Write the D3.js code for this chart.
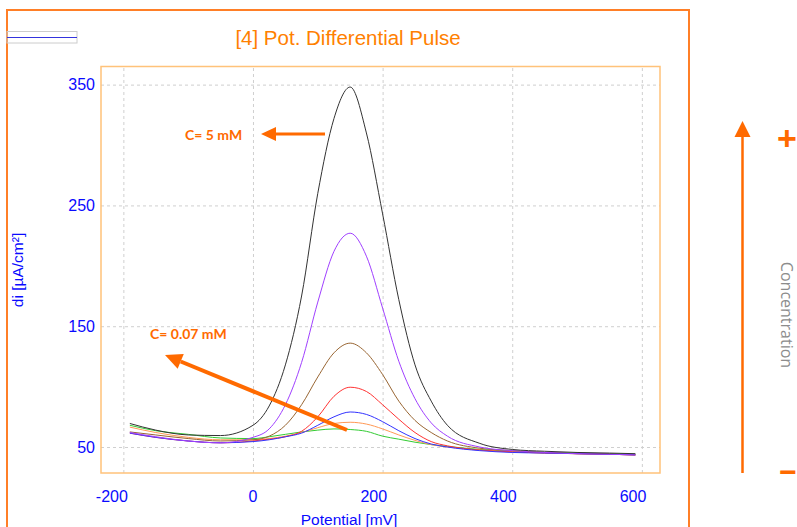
<!DOCTYPE html>
<html>
<head>
<meta charset="utf-8">
<script src="https://cdn.jsdelivr.net/npm/d3@7"></script>
<style>
  body { margin: 0; background: #fff; }
  svg { display: block; }
</style>
</head>
<body>
<script>
let width = 797, height = 527;

// potential axis (mV), shared by all curves
const potential = [-190, -150, -100, -50, 0, 25, 50, 75, 100, 125, 150, 175, 200, 225, 250, 275, 300, 350, 400, 450, 500, 550, 590];

// di (uA/cm2) per concentration, highest first
const curveBlack  = [69.5, 64, 60, 59.5, 68, 84, 118, 175, 260, 322, 348, 310, 243, 172, 118, 88, 68, 53, 48, 46.5, 45.5, 45, 44.5];
const curvePurple = [62, 58.5, 55, 53.5, 58, 65, 85, 120, 170, 212, 227, 208, 165, 121, 90, 70, 59, 50, 47, 45.5, 44.5, 44, 43.5];
const curveBrown  = [62.5, 60, 57, 55, 56, 59, 68, 85, 108, 128, 136, 128, 110, 88, 72, 62, 55, 49, 47, 45.5, 44.5, 44, 43.5];
const curveRed    = [61.5, 58, 55, 53.5, 55, 56.5, 58.5, 63, 75, 92, 99.5, 96, 85, 73, 62, 54.5, 51, 47.5, 46, 45, 44.5, 44, 43.5];
const curveBlue   = [61.5, 58, 55, 53.5, 54.5, 56, 58.5, 61.5, 68, 75, 79, 77, 71, 63.5, 57, 52.5, 50, 47, 45.5, 45, 44.5, 44, 43.5];
const curveOrange = [66.5, 62, 58, 56, 56, 57, 59, 62, 66, 69.5, 70.5, 69, 65, 60, 55.5, 52, 50, 47.5, 46, 45, 44.5, 44, 43.5];
const curveGreen  = [68, 63.5, 60.5, 57.5, 57, 58.5, 60.5, 62.5, 64, 65, 64.5, 63, 59, 56.5, 54, 52, 50.5, 48, 46.5, 45.5, 45, 44.5, 44];

const xTicks = [-200, 0, 200, 400, 600];
const yTicks = [50, 150, 250, 350];

const series = [
    { color: "#33cc33", values: curveGreen },
    { color: "#ff9955", values: curveOrange },
    { color: "#996633", values: curveBrown },
    { color: "#ff3333", values: curveRed },
    { color: "#3333ff", values: curveBlue },
    { color: "#a040ff", values: curvePurple },
    { color: "#333333", values: curveBlack }
];

const orange = "#ff8000";
const arrowOrange = "#ff6a00";
const blue = "#0a0aff";
const font = "Liberation Sans, Arial, sans-serif";

const svg = d3.select("body").append("svg")
    .attr("width", width)
    .attr("height", height);

// outer frame (runs past the bottom of the picture)
svg.append("rect")
    .attr("x", 7).attr("y", 10)
    .attr("width", 682).attr("height", 540)
    .attr("fill", "none")
    .attr("stroke", "#ff7f27")
    .attr("stroke-width", 2);

// legend stub in the corner
svg.append("rect")
    .attr("x", 7).attr("y", 31.5)
    .attr("width", 70).attr("height", 11.5)
    .attr("fill", "none")
    .attr("stroke", "#cccccc");
svg.append("line")
    .attr("x1", 7).attr("x2", 77)
    .attr("y1", 37.5).attr("y2", 37.5)
    .attr("stroke", "#3333dd")
    .attr("stroke-width", 1);

svg.append("text")
    .attr("x", 348).attr("y", 45)
    .attr("text-anchor", "middle")
    .attr("font-family", font)
    .attr("font-size", 20.5)
    .attr("fill", orange)
    .text("[4] Pot. Differential Pulse");

// plot area
const plot = { left: 101, top: 66.5, right: 660, bottom: 473 };

const x = d3.scaleLinear()
    .domain([-234.5, 628])
    .range([plot.left, plot.right]);

const y = d3.scaleLinear()
    .domain([28.5, 365])
    .range([plot.bottom, plot.top]);

// grid via axes
svg.append("g")
    .attr("transform", `translate(0,${plot.bottom})`)
    .call(d3.axisBottom(x).tickValues(xTicks).tickSize(-(plot.bottom - plot.top)).tickFormat(""))
    .call(g => g.select(".domain").remove())
    .selectAll("line")
    .attr("stroke", "#cfcfcf")
    .attr("stroke-dasharray", "3,3");

svg.append("g")
    .attr("transform", `translate(${plot.left},0)`)
    .call(d3.axisLeft(y).tickValues(yTicks).tickSize(-(plot.right - plot.left)).tickFormat(""))
    .call(g => g.select(".domain").remove())
    .selectAll("line")
    .attr("stroke", "#cfcfcf")
    .attr("stroke-dasharray", "3,3");

svg.append("rect")
    .attr("x", plot.left).attr("y", plot.top)
    .attr("width", plot.right - plot.left)
    .attr("height", plot.bottom - plot.top)
    .attr("fill", "none")
    .attr("stroke", "#ffc27a")
    .attr("stroke-width", 1.5);

// tick labels
const xAxis = svg.append("g")
    .attr("transform", `translate(0,${plot.bottom})`)
    .call(d3.axisBottom(x).tickValues(xTicks).tickSize(0).tickPadding(18).tickFormat(d => String(d)));
xAxis.select(".domain").remove();
xAxis.selectAll("text")
    .attr("text-anchor", "end")
    .attr("dx", 4)
    .attr("font-family", font)
    .attr("font-size", 16)
    .attr("fill", blue);

const yAxis = svg.append("g")
    .attr("transform", `translate(${plot.left},0)`)
    .call(d3.axisLeft(y).tickValues(yTicks).tickSize(0).tickPadding(6));
yAxis.select(".domain").remove();
yAxis.selectAll("text")
    .attr("font-family", font)
    .attr("font-size", 16)
    .attr("fill", blue);

svg.append("text")
    .attr("x", 349).attr("y", 525)
    .attr("text-anchor", "middle")
    .attr("font-family", font)
    .attr("font-size", 15.5)
    .attr("fill", blue)
    .text("Potential [mV]");

svg.append("text")
    .attr("transform", "translate(23,270) rotate(-90)")
    .attr("text-anchor", "middle")
    .attr("font-family", font)
    .attr("font-size", 15.5)
    .attr("fill", blue)
    .text("di [µA/cm²]");

// curves
const line = d3.line()
    .x((d, i) => x(potential[i]))
    .y(d => y(d))
    .curve(d3.curveMonotoneX);

svg.append("g").selectAll("path")
    .data(series)
    .enter().append("path")
    .attr("d", d => line(d.values))
    .attr("fill", "none")
    .attr("stroke", d => d.color)
    .attr("stroke-width", 1);

// annotation arrows
function arrow(x1, y1, x2, y2, w, headLen, headHalf) {
    const ang = Math.atan2(y2 - y1, x2 - x1);
    const bx = x2 - Math.cos(ang) * headLen, by = y2 - Math.sin(ang) * headLen;
    svg.append("line")
        .attr("x1", x1).attr("y1", y1)
        .attr("x2", bx).attr("y2", by)
        .attr("stroke", arrowOrange)
        .attr("stroke-width", w);
    const px = -Math.sin(ang) * headHalf, py = Math.cos(ang) * headHalf;
    svg.append("path")
        .attr("d", `M${x2},${y2}L${bx + px},${by + py}L${bx - px},${by - py}Z`)
        .attr("fill", arrowOrange);
}

arrow(325, 134, 261, 134, 3, 15, 7);
arrow(347, 430, 165, 355, 4, 17, 8);

svg.append("text")
    .attr("x", 185).attr("y", 140)
    .attr("font-family", "Lato, Open Sans, sans-serif")
    .attr("font-weight", "bold")
    .attr("font-size", 14)
    .attr("fill", arrowOrange)
    .text("C= 5 mM");

svg.append("text")
    .attr("x", 150).attr("y", 339)
    .attr("font-family", "Lato, Open Sans, sans-serif")
    .attr("font-weight", "bold")
    .attr("font-size", 14)
    .attr("fill", arrowOrange)
    .text("C= 0.07 mM");

// concentration arrow on the right
arrow(742.5, 473, 742.5, 121, 2.5, 16, 8);

svg.append("text")
    .attr("x", 787).attr("y", 150)
    .attr("text-anchor", "middle")
    .attr("font-family", font)
    .attr("font-weight", "bold")
    .attr("font-size", 34)
    .attr("fill", arrowOrange)
    .text("+");

svg.append("text")
    .attr("x", 788).attr("y", 482)
    .attr("text-anchor", "middle")
    .attr("font-family", font)
    .attr("font-weight", "bold")
    .attr("font-size", 30)
    .attr("fill", arrowOrange)
    .text("−");

svg.append("text")
    .attr("transform", "translate(781,315) rotate(90)")
    .attr("text-anchor", "middle")
    .attr("font-family", "Open Sans, sans-serif")
    .attr("font-size", 16)
    .attr("fill", "#8c8c8c")
    .text("Concentration");
</script>
</body>
</html>
